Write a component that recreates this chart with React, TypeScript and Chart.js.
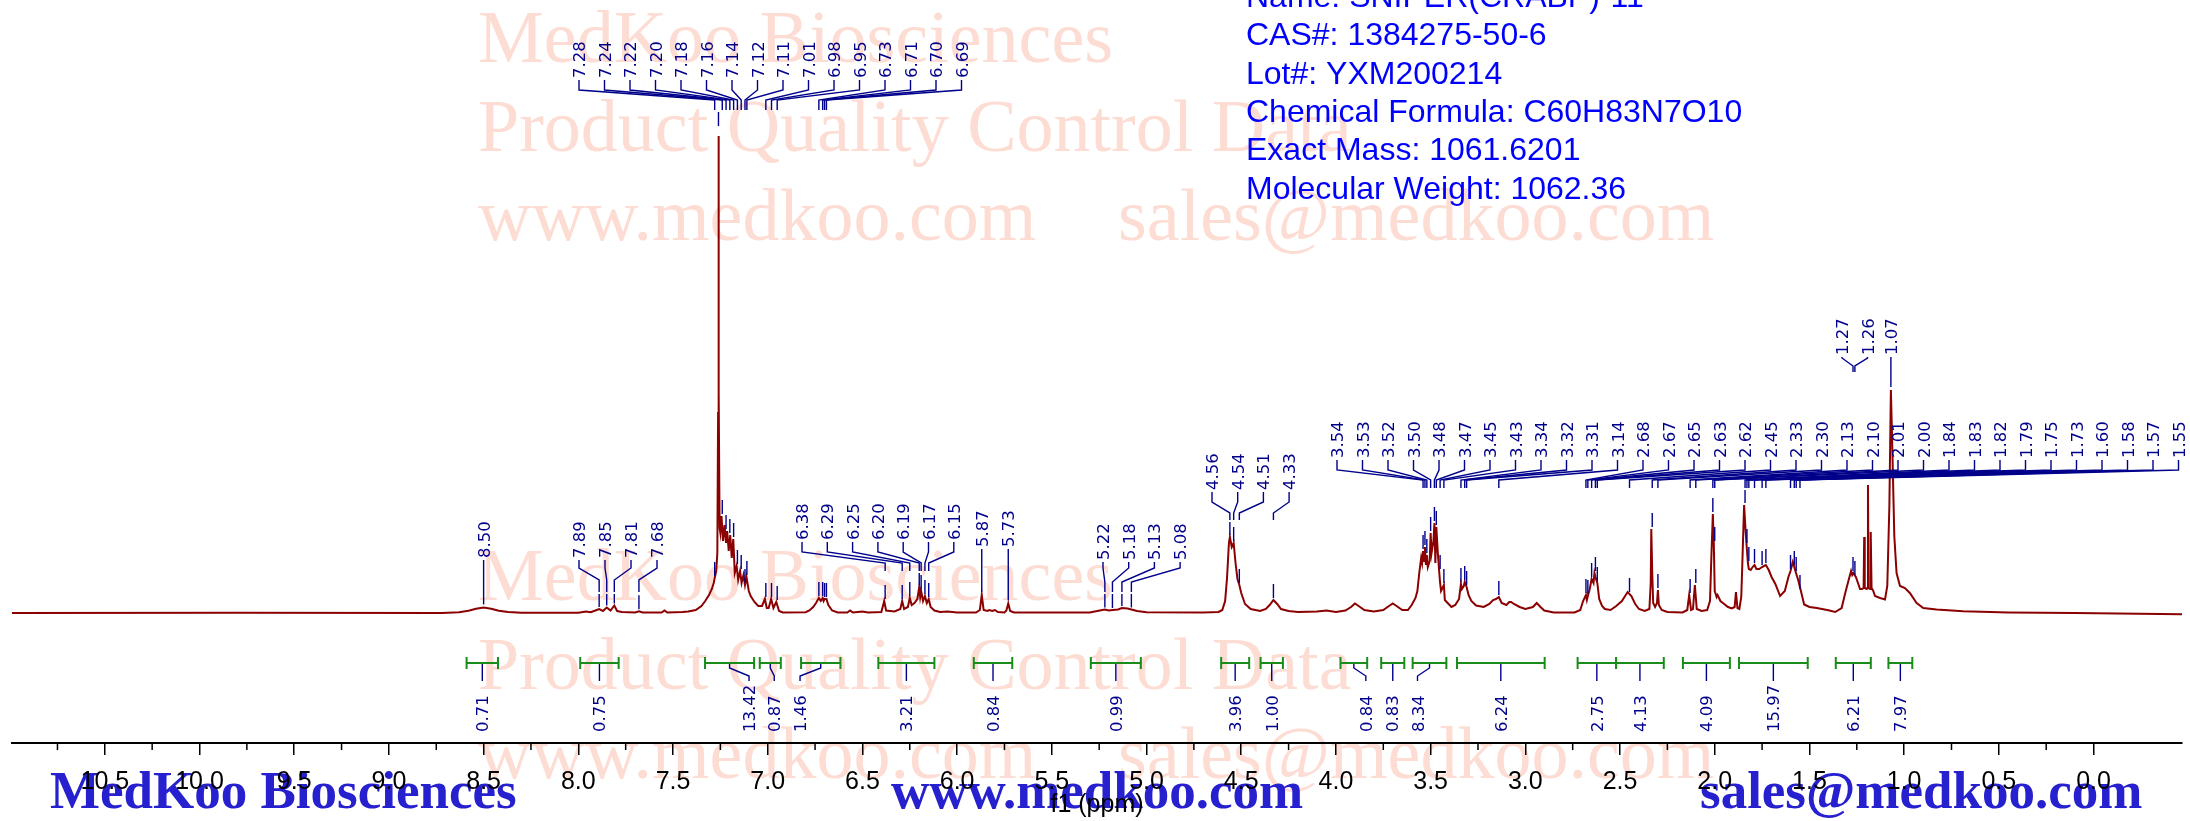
import { useEffect, useRef } from "react";
import { Chart, registerables } from "chart.js";

Chart.register(...registerables);

// ---------------- DATA ----------------
// spectrum, [ppm, intensity] (intensity in arbitrary units)
const downfieldRegion: [number, number][] = [
  [10.99, 0], [9.8, 0.2], [8.72, 0], [8.63, 0.8], [8.58, 2.2], [8.54, 4.2], [8.5, 5.5], [8.46, 4.3],
  [8.42, 2.3], [8.37, 1], [8.3, 0.3], [8.0, 0.3], [7.96, 1.5], [7.935, 0.8], [7.91, 2.5], [7.89, 4],
  [7.87, 2], [7.85, 5.5], [7.83, 2.5], [7.81, 7.5], [7.795, 2], [7.77, 1], [7.7, 0.5], [7.68, 1.8],
  [7.66, 0.5], [7.56, 0.5], [7.545, 2.5], [7.53, 0.5], [7.45, 1],
];
const aromaticRegion: [number, number][] = [
  [7.42, 1.5], [7.38, 3], [7.35, 7], [7.33, 12], [7.31, 18], [7.295, 24], [7.285, 30], [7.28, 35],
  [7.272, 42], [7.266, 60], [7.262, 200], [7.26, 477], [7.258, 220], [7.254, 85], [7.25, 80],
  [7.244, 97], [7.236, 72], [7.228, 88], [7.22, 70], [7.214, 82], [7.206, 62], [7.198, 78], [7.19, 55],
  [7.182, 74], [7.174, 40], [7.164, 47], [7.156, 33], [7.146, 42], [7.138, 30], [7.128, 38], [7.12, 28],
  [7.112, 36], [7.1, 22], [7.09, 17], [7.07, 11], [7.05, 7], [7.03, 7], [7.015, 14], [7.005, 5],
  [6.995, 5], [6.982, 14], [6.97, 5], [6.955, 11], [6.94, 2], [6.92, 0.5], [6.8, 0.8], [6.78, 2.5],
  [6.76, 6], [6.745, 10], [6.73, 15], [6.72, 12], [6.71, 15], [6.705, 12], [6.7, 14], [6.69, 14],
  [6.68, 8], [6.66, 2.5], [6.63, 0.5], [6.58, 0.5], [6.565, 2.5], [6.55, 0.5], [6.5, 1.5], [6.47, 0.5],
  [6.4, 1],
];
const olefinicRegion: [number, number][] = [
  [6.385, 12], [6.375, 2.5], [6.33, 1.5], [6.3, 4], [6.29, 12], [6.28, 4], [6.26, 6], [6.25, 15],
  [6.24, 8], [6.225, 10], [6.21, 14], [6.2, 26], [6.195, 16], [6.19, 22], [6.18, 12], [6.17, 17],
  [6.16, 10], [6.15, 14], [6.14, 6], [6.12, 2.5], [6.09, 1], [6.05, 1.5], [6.0, 0.5], [5.9, 0.5],
  [5.88, 3], [5.87, 18], [5.86, 3], [5.84, 2], [5.83, 3], [5.815, 2], [5.8, 3], [5.785, 1], [5.75, 0.5],
  [5.74, 2.5], [5.73, 9.5], [5.72, 2], [5.7, 0.5], [5.3, 0.5], [5.26, 2], [5.22, 3.5], [5.2, 2.5],
  [5.18, 3], [5.15, 3.5], [5.13, 5], [5.1, 4.5], [5.08, 3.5], [5.05, 2], [5.0, 0.8], [4.7, 0.5],
  [4.62, 1], [4.6, 3], [4.585, 12], [4.575, 35], [4.565, 70], [4.56, 76], [4.55, 66], [4.54, 70],
  [4.53, 50], [4.52, 34], [4.51, 28], [4.5, 20], [4.48, 9], [4.45, 4], [4.4, 2], [4.37, 4], [4.35, 8],
  [4.33, 13], [4.31, 9], [4.29, 4], [4.25, 2], [4.2, 1], [4.1, 1.5], [4.05, 2.5], [4.0, 1],
];
const midRegion: [number, number][] = [
  [3.95, 2.5], [3.92, 6], [3.9, 9.5], [3.88, 7], [3.85, 3], [3.8, 1.5], [3.75, 3], [3.72, 7],
  [3.7, 9.5], [3.68, 7], [3.65, 3], [3.62, 3], [3.6, 8], [3.58, 15], [3.57, 22], [3.56, 40], [3.55, 55],
  [3.545, 50], [3.54, 62], [3.535, 52], [3.53, 66], [3.525, 48], [3.52, 58], [3.515, 46], [3.505, 52],
  [3.5, 80], [3.495, 60], [3.485, 72], [3.48, 90], [3.475, 50], [3.47, 86], [3.462, 60], [3.455, 42],
  [3.45, 30], [3.445, 22], [3.435, 26], [3.43, 28], [3.425, 13], [3.41, 10], [3.39, 6], [3.37, 8],
  [3.35, 14], [3.34, 29], [3.335, 24], [3.325, 27], [3.32, 31], [3.31, 26], [3.3, 18], [3.285, 12],
  [3.26, 7.5], [3.22, 6], [3.19, 9], [3.17, 13], [3.155, 14], [3.14, 16], [3.125, 10], [3.1, 8],
  [3.085, 11], [3.075, 11], [3.06, 9], [3.03, 6], [3.0, 4], [2.96, 6], [2.94, 10], [2.92, 6], [2.9, 2.5],
  [2.85, 0.5], [2.74, 0.5], [2.71, 3], [2.695, 12], [2.68, 18], [2.675, 13], [2.67, 17], [2.66, 24],
  [2.65, 34], [2.64, 30], [2.635, 40], [2.63, 36], [2.62, 30], [2.61, 14], [2.595, 7], [2.58, 4],
  [2.55, 3], [2.52, 7], [2.49, 12], [2.46, 21], [2.44, 17], [2.42, 9], [2.4, 4], [2.37, 2], [2.345, 4],
  [2.338, 30], [2.335, 84], [2.33, 40], [2.325, 10], [2.315, 6], [2.305, 10], [2.3, 23], [2.295, 8],
  [2.28, 3], [2.25, 1], [2.17, 0.5], [2.145, 3], [2.135, 18], [2.125, 3], [2.115, 4], [2.105, 28],
  [2.095, 4], [2.07, 2], [2.04, 3], [2.025, 12], [2.018, 55], [2.01, 99], [2.005, 70], [2.0, 22],
  [1.99, 16], [1.985, 18], [1.97, 12], [1.95, 9], [1.93, 6], [1.91, 4.5], [1.895, 6], [1.888, 21],
  [1.88, 5], [1.87, 4], [1.86, 16], [1.855, 45], [1.845, 108], [1.838, 85], [1.832, 68], [1.825, 50],
  [1.82, 44], [1.81, 43], [1.8, 46], [1.79, 48], [1.78, 44], [1.765, 44], [1.75, 46], [1.74, 47],
  [1.73, 48], [1.715, 43], [1.7, 36], [1.68, 29], [1.655, 17],
];
const upfieldRegion: [number, number][] = [
  [1.63, 22], [1.611, 36], [1.6, 42], [1.588, 51], [1.58, 46], [1.571, 40], [1.558, 32], [1.545, 22],
  [1.528, 8.5], [1.5, 6], [1.461, 5], [1.4, 2.7], [1.364, 1], [1.33, 5], [1.311, 20], [1.293, 33],
  [1.28, 42], [1.274, 38], [1.268, 40], [1.255, 36], [1.24, 28], [1.233, 24], [1.222, 24], [1.214, 25],
  [1.211, 76], [1.208, 25], [1.197, 24], [1.194, 25], [1.191, 128], [1.188, 25], [1.18, 24],
  [1.178, 25], [1.175, 81], [1.172, 25], [1.163, 22], [1.154, 17], [1.127, 15], [1.101, 13.5],
  [1.089, 27], [1.078, 107], [1.07, 223], [1.061, 153], [1.052, 77], [1.04, 40], [1.022, 27],
  [0.996, 25], [0.97, 20], [0.934, 10], [0.899, 5], [0.829, 3.4], [0.688, 1.7], [0.45, 0.5], [0.1, 0],
  [-0.467, -1.2],
];

// x axis
const X_MIN = -0.467;
const X_MAX = 10.99;
const majorTicks = [0, 0.5, 1, 1.5, 2, 2.5, 3, 3.5, 4, 4.5, 5, 5.5, 6, 6.5, 7, 7.5, 8, 8.5, 9, 9.5, 10, 10.5];
const minorTicks = [0.25, 0.75, 1.25, 1.75, 2.25, 2.75, 3.25, 3.75, 4.25, 4.75, 5.25, 5.75, 6.25, 6.75, 7.25, 7.75, 8.25, 8.75, 9.25, 9.75, 10.25, 10.75];

// peak labels (ppm)
const peaksA = [7.28, 7.24, 7.22, 7.2, 7.18, 7.16, 7.14, 7.12, 7.11, 7.01, 6.98, 6.95, 6.73, 6.71, 6.7, 6.69];
const peaks850 = [8.5];
const peaksB = [7.89, 7.85, 7.81, 7.68];
const peaksC = [6.38, 6.29, 6.25, 6.2, 6.19, 6.17, 6.15];
const peaks587 = [5.87];
const peaks573 = [5.73];
const peaksD = [5.22, 5.18, 5.13, 5.08];
const peaksE = [4.56, 4.54, 4.51, 4.33];
const peaksF = [3.54, 3.53, 3.52, 3.5, 3.48, 3.47, 3.45, 3.43, 3.34, 3.32, 3.31, 3.14, 2.68, 2.67, 2.65, 2.63, 2.62, 2.45, 2.33, 2.3, 2.13, 2.1, 2.01, 2.0, 1.84, 1.83, 1.82, 1.79, 1.75, 1.73, 1.6, 1.58, 1.57, 1.55];
const peaksG = [1.27, 1.26];
const peaks107 = [1.07];
const markerOnlyPeaks = [7.26];

// integrals
const integralFrom = [8.59, 7.99, 7.331, 7.042, 6.824, 6.416, 5.912, 5.294, 4.606, 4.398, 3.976, 3.761, 3.595, 3.361, 2.724, 2.521, 2.168, 1.872, 1.361, 1.083];
const integralTo = [8.424, 7.787, 7.072, 6.931, 6.616, 6.12, 5.709, 5.03, 4.458, 4.28, 3.835, 3.639, 3.417, 2.898, 2.521, 2.269, 1.92, 1.509, 1.176, 0.957];
const integralValues = ["0.71", "0.75", "13.42", "0.87", "1.46", "3.21", "0.84", "0.99", "3.96", "1.00", "0.84", "0.83", "8.34", "6.24", "2.75", "4.13", "4.09", "15.97", "6.21", "7.97"];

const infoLines = [
  "Name: SNIPER(CRABP)-11",
  "CAS#: 1384275-50-6",
  "Lot#: YXM200214",
  "Chemical Formula: C60H83N7O10",
  "Exact Mass: 1061.6201",
  "Molecular Weight: 1062.36",
];

// ---------------- STYLE / LAYOUT ----------------
const RED = "#8b0000";
const NAVY = "#00008b";
const GREEN = "#1a8c1a";
const WATER = "rgb(253,221,211)";
const BIG_BLUE = "#2620cf";
const LABEL_FONT = 16.5;

const labelGroups = [
  { peaks: peaksA, x0: 579, dx: 25.5, yb: 78, y1: 90, y2: 100, y3: 110 },
  { peaks: peaks850, direct: true, yb: 558 },
  { peaks: peaksB, x0: 579, dx: 26, yb: 558, y1: 568, y2: 580, y3: 592 },
  { peaks: peaksC, x0: 802, dx: 25.3, yb: 540, y1: 552, y2: 563, y3: 571 },
  { peaks: peaks587, direct: true, yb: 547 },
  { peaks: peaks573, direct: true, yb: 547 },
  { peaks: peaksD, x0: 1103, dx: 25.7, yb: 560, y1: 568, y2: 582, y3: 592 },
  { peaks: peaksE, x0: 1212, dx: 25.7, yb: 490, y1: 502, y2: 513, y3: 520 },
  { peaks: peaksF, x0: 1337, dx: 25.5, yb: 458, y1: 470, y2: 480, y3: 488 },
  { peaks: peaksG, x0: 1842, dx: 25.5, yb: 355, y1: 358, y2: 366, y3: 372 },
  { peaks: peaks107, direct: true, yb: 355 },
];
const integralLabelShift = [0, 0, 19.5, 4, -20.7, 0, 0, 0, 0, 0, 12, -1, -12, 0, 0, 0, 0, 0, 0, 0];

const allPoints = [...downfieldRegion, ...aromaticRegion, ...olefinicRegion, ...midRegion, ...upfieldRegion];

function peakHeight(ppm: number): number {
  let best = -Infinity;
  for (const [p, h] of allPoints) {
    if (Math.abs(p - ppm) <= 0.008 && h > best) best = h;
  }
  if (best === -Infinity) {
    for (let i = 0; i < allPoints.length - 1; i++) {
      const [p0, h0] = allPoints[i];
      const [p1, h1] = allPoints[i + 1];
      if (ppm <= p0 && ppm >= p1) {
        best = h0 + ((h1 - h0) * (p0 - ppm)) / (p0 - p1);
        break;
      }
    }
  }
  return best;
}

function line(ctx: CanvasRenderingContext2D, pts: [number, number][]) {
  ctx.beginPath();
  ctx.moveTo(pts[0][0], pts[0][1]);
  for (let i = 1; i < pts.length; i++) ctx.lineTo(pts[i][0], pts[i][1]);
  ctx.stroke();
}

function rotLabel(ctx: CanvasRenderingContext2D, text: string, x: number, yb: number) {
  ctx.save();
  ctx.translate(x, yb);
  ctx.rotate(-Math.PI / 2);
  ctx.textAlign = "left";
  ctx.textBaseline = "alphabetic";
  ctx.fillText(text, 0, LABEL_FONT * 0.365);
  ctx.restore();
}

const backgroundPlugin = {
  id: "background",
  beforeDraw(chart: any) {
    const ctx: CanvasRenderingContext2D = chart.ctx;
    ctx.save();
    ctx.fillStyle = "#ffffff";
    ctx.fillRect(0, 0, chart.width, chart.height);
    // watermark
    ctx.fillStyle = WATER;
    ctx.font = "74px 'Liberation Serif'";
    ctx.textAlign = "left";
    ctx.textBaseline = "alphabetic";
    for (const base of [0, 538]) {
      ctx.fillText("MedKoo Biosciences", 478, 62 + base);
      ctx.fillText("Product Quality Control Data", 478, 151 + base);
      ctx.fillText("www.medkoo.com", 478, 240 + base);
      ctx.fillText("sales@medkoo.com", 1118, 240 + base);
    }
    // bottom blue text
    ctx.fillStyle = BIG_BLUE;
    ctx.font = "bold 53px 'Liberation Serif'";
    ctx.fillText("MedKoo Biosciences", 50, 808);
    ctx.fillText("www.medkoo.com", 891, 808);
    ctx.fillText("sales@medkoo.com", 1700, 808);
    ctx.restore();
  },
};

const overlayPlugin = {
  id: "overlay",
  afterDraw(chart: any) {
    const ctx: CanvasRenderingContext2D = chart.ctx;
    const xs = chart.scales.x;
    const ys = chart.scales.y;
    const axisY = chart.chartArea.bottom;
    ctx.save();
    // minor ticks
    ctx.strokeStyle = "#000";
    ctx.lineWidth = 1.5;
    for (const v of minorTicks) {
      const x = xs.getPixelForValue(v);
      line(ctx, [[x, axisY], [x, axisY + 7]]);
    }
    // axis title
    ctx.fillStyle = "#000";
    ctx.font = "25px 'Liberation Sans'";
    ctx.textAlign = "center";
    ctx.fillText("f1 (ppm)", (chart.chartArea.left + chart.chartArea.right) / 2, 812);

    // peak labels
    ctx.strokeStyle = NAVY;
    ctx.fillStyle = NAVY;
    ctx.lineWidth = 1.4;
    ctx.font = `${LABEL_FONT}px 'DejaVu Sans'`;
    for (const g of labelGroups as any[]) {
      g.peaks.forEach((ppm: number, i: number) => {
        const px = xs.getPixelForValue(ppm);
        const py = ys.getPixelForValue(peakHeight(ppm));
        const text = ppm.toFixed(2);
        if (g.direct) {
          rotLabel(ctx, text, px, g.yb);
          line(ctx, [[px, g.yb + 2], [px, py - 3]]);
        } else {
          const lx = g.x0 + i * g.dx;
          rotLabel(ctx, text, lx, g.yb);
          line(ctx, [[lx, g.yb + 2], [lx, g.y1], [px, g.y2], [px, g.y3]]);
          const mTop = Math.max(g.y3 + 2, py - 16);
          if (py - 2 > mTop) line(ctx, [[px, mTop], [px, py - 2]]);
        }
      });
    }
    for (const ppm of markerOnlyPeaks) {
      const px = xs.getPixelForValue(ppm);
      const py = ys.getPixelForValue(peakHeight(ppm));
      line(ctx, [[px, py - 24], [px, py - 10]]);
    }

    // integrals
    integralValues.forEach((val, i) => {
      const xa = xs.getPixelForValue(integralFrom[i]);
      const xb = xs.getPixelForValue(integralTo[i]);
      const cx = (xa + xb) / 2;
      const lx = cx + integralLabelShift[i];
      ctx.strokeStyle = GREEN;
      ctx.lineWidth = 2;
      line(ctx, [[xa, 663], [xb, 663]]);
      line(ctx, [[xa, 657], [xa, 669]]);
      line(ctx, [[xb, 657], [xb, 669]]);
      ctx.strokeStyle = NAVY;
      ctx.lineWidth = 1.4;
      if (Math.abs(lx - cx) < 2) line(ctx, [[cx, 664], [cx, 681]]);
      else line(ctx, [[cx, 664], [cx, 668], [lx, 676], [lx, 681]]);
      ctx.fillStyle = NAVY;
      rotLabel(ctx, val, lx, 732);
    });

    // info block
    ctx.fillStyle = "#0000ff";
    ctx.font = "32px 'Liberation Sans'";
    ctx.textAlign = "left";
    ctx.textBaseline = "alphabetic";
    infoLines.forEach((t, i) => ctx.fillText(t, 1246, 7 + i * 38.3));
    ctx.restore();
  },
};

export default function App() {
  const ref = useRef<HTMLCanvasElement>(null);
  useEffect(() => {
    const canvas = ref.current;
    if (!canvas) return;
    const data = allPoints.map(([p, h]) => ({ x: p, y: h }));
    const chart = new Chart(canvas, {
      type: "line",
      data: {
        datasets: [
          {
            data,
            borderColor: RED,
            borderWidth: 2,
            pointRadius: 0,
            tension: 0,
            fill: false,
          },
        ],
      },
      options: {
        animation: false,
        responsive: false,
        maintainAspectRatio: false,
        devicePixelRatio: 1,
        events: [],
        layout: { padding: { left: 12, right: 8, top: 0, bottom: 0 } },
        plugins: { legend: { display: false }, tooltip: { enabled: false }, title: { display: false } },
        scales: {
          x: {
            type: "linear",
            reverse: true,
            min: X_MIN,
            max: X_MAX,
            afterBuildTicks: (s: any) => {
              s.ticks = majorTicks.map((v) => ({ value: v }));
            },
            afterFit: (s: any) => {
              s.height = 78;
            },
            border: { display: true, color: "#000", width: 2 },
            grid: { display: true, drawOnChartArea: false, drawTicks: true, tickLength: 12, color: "#000", lineWidth: 1.5 },
            ticks: {
              autoSkip: false,
              maxRotation: 0,
              minRotation: 0,
              padding: 12,
              color: "#000",
              font: { family: "'Liberation Sans'", size: 25 },
              callback: (v: any) => Number(v).toFixed(1),
            },
          },
          y: { display: false, min: -130, max: 613 },
        },
      } as any,
      plugins: [backgroundPlugin, overlayPlugin],
    });
    return () => chart.destroy();
  }, []);
  return (
    <div style={{ position: "fixed", left: 0, top: 0, width: 2190, height: 821, background: "#fff" }}>
      <canvas ref={ref} width={2190} height={821} style={{ display: "block", width: 2190, height: 821 }} />
    </div>
  );
}
